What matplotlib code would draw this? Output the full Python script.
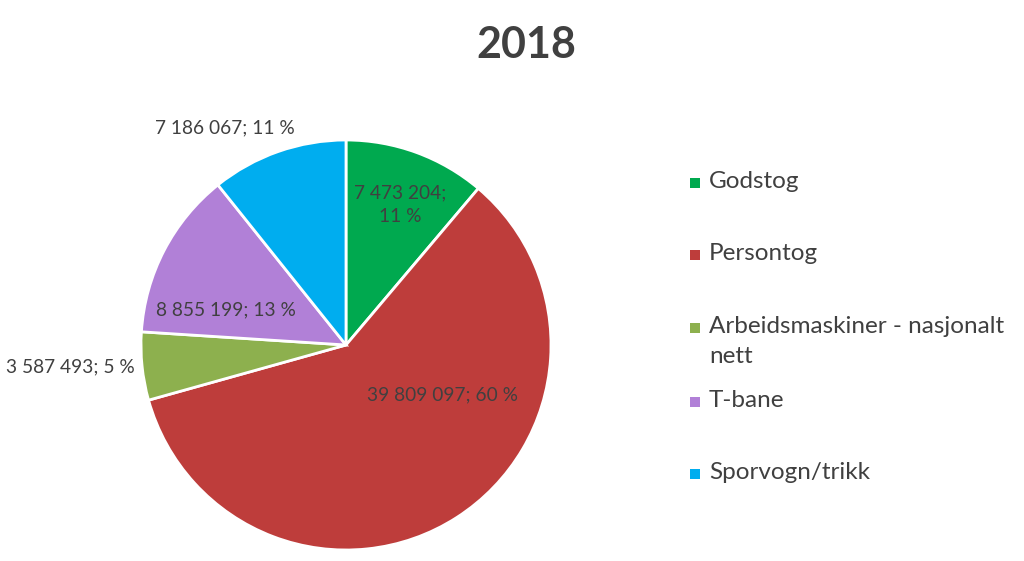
import matplotlib
matplotlib.use("Agg")
import matplotlib.pyplot as plt
from matplotlib.patches import Rectangle

# 数据
categories = ["Godstog", "Persontog", "Arbeidsmaskiner - nasjonalt\nnett", "T-bane", "Sporvogn/trikk"]
values = [7473204, 39809097, 3587493, 8855199, 7186067]
percents = [11, 60, 5, 13, 11]
colors = ["#00A94F", "#BE3D3B", "#8DB04E", "#B180D7", "#00ADEF"]
title = "2018"

# 标签位置（数据坐标，半径=1）
label_pos = [(0.263, 0.683), (0.47, -0.245), (-1.345, -0.107), (-0.585, 0.171), (-0.59, 1.06)]

plt.rcParams["font.family"] = ["Lato", "DejaVu Sans"]

fig = plt.figure(figsize=(10.24, 5.61), dpi=100)
W, H = 1024, 561
cx, cy, r = 346, 345, 205
ax = fig.add_axes([(cx - r) / W, (H - cy - r) / H, 2 * r / W, 2 * r / H])
ax.pie(values, colors=colors, startangle=90, counterclock=False, radius=1,
       wedgeprops=dict(edgecolor="white", linewidth=2.0))
ax.set_xlim(-1, 1); ax.set_ylim(-1, 1); ax.set_aspect("auto")
ax.axis("off")

for i, (v, p, (x, y)) in enumerate(zip(values, percents, label_pos)):
    num = f"{v:,}".replace(",", " ")
    txt = f"{num};\n{p} %" if i == 0 else f"{num}; {p} %"
    ax.text(x, y, txt, ha="center", va="center", fontsize=13.8, color="#404040",
            linespacing=1.45, clip_on=False)

fig.text(526 / W, 1 - 45 / H, title, ha="center", va="center", fontsize=31,
         fontweight="bold", color="#404040")

# 图例（手工排布）
row_y = [183, 255, 328, 402, 474]
for lab, c, y in zip(categories, colors, row_y):
    fig.patches.append(Rectangle(((695 - 5) / W, 1 - (y + 5) / H), 10 / W, 10 / H,
                                 transform=fig.transFigure, facecolor=c, edgecolor="none"))
    fig.text(709 / W, 1 - (y - 12) / H, lab, ha="left", va="top", fontsize=17.5,
             color="#404040", linespacing=1.55)

fig.savefig("out.png", dpi=100, facecolor="white")
